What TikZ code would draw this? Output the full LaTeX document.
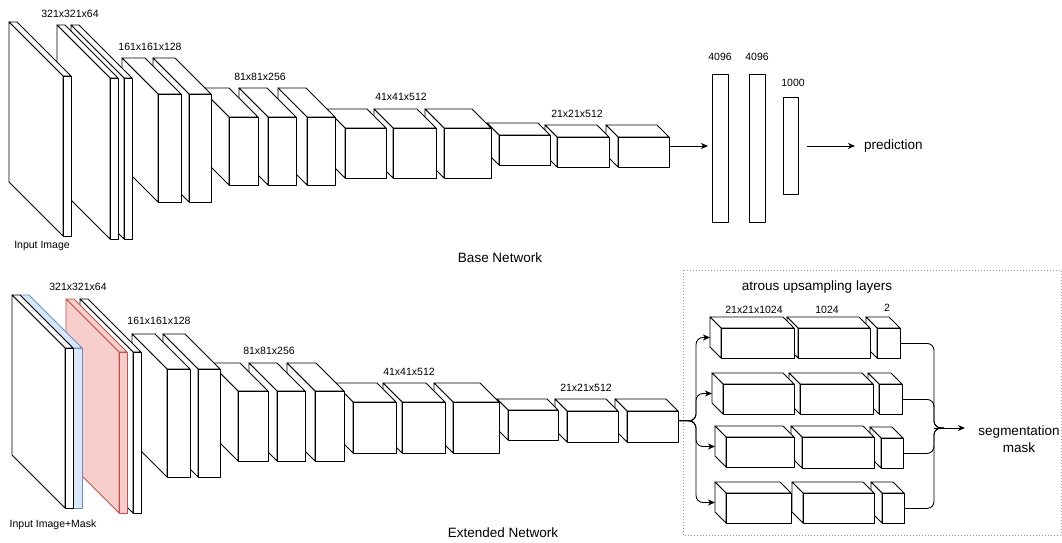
\documentclass[tikz,border=0pt]{standalone}
\usepackage{fontspec}
\setmainfont{Liberation Sans}
\usetikzlibrary{arrows.meta,positioning,calc}
\definecolor{blueface}{HTML}{DAE8FC}
\definecolor{blueline}{HTML}{6C8EBF}
\definecolor{redface}{HTML}{F8CECC}
\definecolor{redline}{HTML}{B85450}

% front face (x1,y1)-(x2,y2), depth d going up-left
\newcommand{\layerbox}[7][]{%
	\draw[face,#1] ({#3-#7},{#4-#7}) -- ({#5-#7},{#4-#7}) -- (#5,#4) -- (#3,#4) -- cycle;
	\draw[face,#1] ({#3-#7},{#4-#7}) -- (#3,#4) -- (#3,#6) -- ({#3-#7},{#6-#7}) -- cycle;
	\node[face,#1,minimum width={#5-#3},minimum height={#6-#4},anchor=north west] (#2) at (#3,#4) {};
	\coordinate (#2-in) at ({#3-#7},{(#4+#6-#7)/2});
	\coordinate (#2-out) at (#5,{(#4+#6-#7)/2});
}

\begin{document}
\begin{tikzpicture}[
		x=1pt,y=-1pt,
		>={Stealth[length=7pt,width=6pt,inset=2pt]},
		face/.style={
			fill=white,
			draw=black,
			line width=0.9pt,
			line join=round,
			inner sep=0pt
		},
		bluelayer/.style={fill=blueface,draw=blueline},
		redlayer/.style={fill=redface,draw=redline},
		flow/.style={
			->,
			line width=0.9pt,
			rounded corners=7pt
		},
		dims/.style={font=\fontsize{10.5}{12}\selectfont},
		caption/.style={font=\fontsize{13.5}{16.5}\selectfont}
		]
		\useasboundingbox (0,0) rectangle (1062,543);

		% base network (drawn back to front)
		\layerbox{t14}{618}{137}{669}{167}{12}
		\layerbox{t13}{557}{137}{609}{167}{12}
		\layerbox{t12}{499}{135}{550}{165}{12}
		\layerbox{t11}{444}{128}{491}{178}{19}
		\layerbox{t10}{393}{128}{436}{178}{19}
		\layerbox{t9}{345}{128}{386}{178}{19}
		\layerbox{t8}{307}{117}{335}{185}{29}
		\layerbox{t7}{268}{117}{296}{185}{29}
		\layerbox{t6}{229}{117}{258}{185}{29}
		\layerbox{t5}{189}{94}{211}{202}{36}
		\layerbox{t4}{158}{94}{181}{202}{36}
		\layerbox{t3}{124}{78}{132}{239}{53}
		\layerbox{t2}{110}{78}{118}{239}{53}
		\layerbox{t1}{63}{76}{71}{236}{54}

		\node[face,minimum width=16,minimum height=148,anchor=north west] (fc1) at (712,74) {};
		\node[face,minimum width=16,minimum height=148,anchor=north west] (fc2) at (749,74) {};
		\node[face,minimum width=15,minimum height=97,anchor=north west] (fc3) at (783,97) {};
		\node[caption,anchor=west,inner sep=0pt] (pred) at (864,146) {prediction};

		\draw[flow,shorten >=4pt] (t14-out) -- (t14-out -| fc1.west);
		\draw[flow,shorten <=8pt,shorten >=9pt] (fc3.east) -- (fc3.east -| pred.west);

		\node[dims] (l1) at (70,14) {321x321x64};
		\node[dims] (l2) at (150,47) {161x161x128};
		\node[dims] (l3) at (260,77) {81x81x256};
		\node[dims] (l4) at (401,97) {41x41x512};
		\node[dims] (l5) at (577,114) {21x21x512};
		\node[dims] (l6) at (720,57) {4096};
		\node[dims] (l7) at (757,57) {4096};
		\node[dims] (l8) at (793,83) {1000};
		\node[dims] (inimg) at (42,246) {Input Image};
		\node[caption] (base) at (500,258) {Base Network};

		% extended network
		\layerbox{b15}{627}{411}{678}{442}{12}
		\layerbox{b14}{567}{411}{618}{442}{12}
		\layerbox{b13}{508}{410}{558}{440}{11}
		\layerbox{b12}{453}{402}{499}{453}{19}
		\layerbox{b11}{402}{402}{445}{453}{19}
		\layerbox{b10}{353}{402}{396}{453}{19}
		\layerbox{b9}{315}{391}{344}{461}{28}
		\layerbox{b8}{277}{391}{305}{461}{28}
		\layerbox{b7}{238}{391}{268}{461}{28}
		\layerbox{b6}{198}{369}{220}{477}{35}
		\layerbox{b5}{167}{369}{190}{477}{35}
		\layerbox{b4}{133}{352}{141}{513}{53}
		\layerbox[redlayer]{b3}{119}{352}{127}{513}{53}
		\layerbox[bluelayer]{b2}{73}{348}{82}{508}{53}
		\layerbox{b1}{65}{348}{73}{508}{53}

		\node[dims] (m1) at (78,287) {321x321x64};
		\node[dims] (m2) at (159,321) {161x161x128};
		\node[dims] (m3) at (269,351) {81x81x256};
		\node[dims] (m4) at (409,372) {41x41x512};
		\node[dims] (m5) at (586,388) {21x21x512};
		\node[dims] (inmask) at (53,525) {Input Image+Mask};
		\node[caption] (ext) at (503,533) {Extended Network};

		% atrous branches
		\draw[gray!80,line width=0.7pt,dash pattern=on 1pt off 2pt] (683,270) rectangle (1061,535);
		\node[caption] (atrous) at (817,287) {atrous upsampling layers};

		\layerbox{a3}{877}{328}{900}{358}{11}
		\layerbox{a2}{798}{328}{870}{358}{11}
		\layerbox{a1}{721}{328}{794}{358}{11}
		\layerbox{c3}{879}{384}{902}{414}{11}
		\layerbox{c2}{800}{384}{873}{414}{11}
		\layerbox{c1}{723}{384}{794}{414}{11}
		\layerbox{e3}{881}{438}{903}{468}{11}
		\layerbox{e2}{802}{437}{874}{468}{11}
		\layerbox{e1}{726}{437}{794}{467}{11}
		\layerbox{g3}{882}{493}{904}{523}{11}
		\layerbox{g2}{803}{493}{874}{523}{11}
		\layerbox{g1}{726}{493}{791}{523}{11}

		\node[dims] (n1) at (754,310) {21x21x1024};
		\node[dims] (n2) at (827,310) {1024};
		\node[dims] (n3) at (887,308) {2};

		\coordinate (split) at (696,421);
		\coordinate (merge) at (934,428);
		\node[caption,align=center] (seg) at (1019,439) {segmentation\\mask};

		\draw[flow] (b15-out) -- (split) |- (a1-in);
		\draw[flow] (b15-out) -- (split) |- (c1-in);
		\draw[flow] (b15-out) -- (split) |- (e1-in);
		\draw[flow] (b15-out) -- (split) |- (g1-in);

		\draw[flow,-] (a3.east) -| (merge) -- ++(10,0);
		\draw[flow,-] (c3.east) -| (merge) -- ++(10,0);
		\draw[flow,-] (e3.east) -| (merge) -- ++(10,0);
		\draw[flow,-] (g3.east) -| (merge) -- ++(10,0);
		\draw[flow,shorten >=10pt] (merge) -- (merge -| seg.west);
		\end{tikzpicture}
\end{document}
